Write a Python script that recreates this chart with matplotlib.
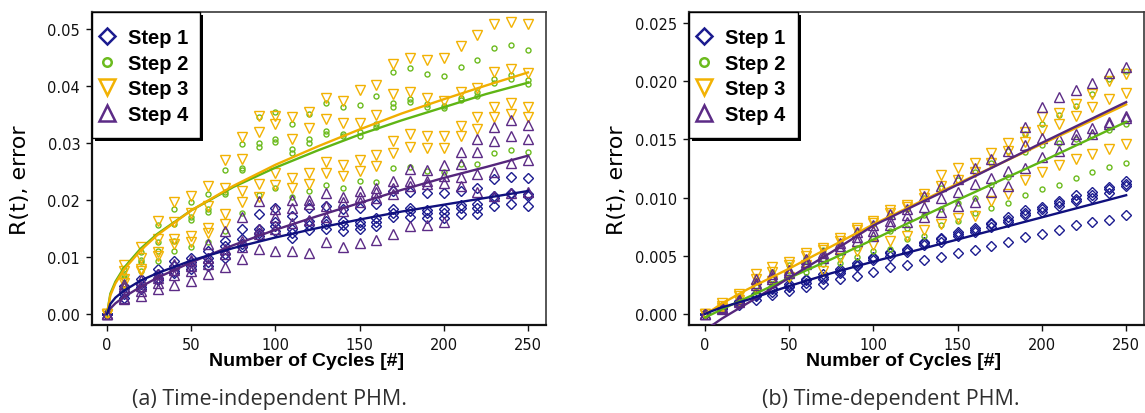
import numpy as np
import matplotlib
matplotlib.use("Agg")
import matplotlib.pyplot as plt
from matplotlib.lines import Line2D
from matplotlib.patches import Rectangle
from matplotlib.font_manager import FontProperties

# ---------------------------------------------------------------- data
cycles = list(range(0, 260, 10))
step_names = ["Step 1", "Step 2", "Step 3", "Step 4"]
step_colors = ["#1b1b8f", "#6cbb1e", "#f2b203", "#5c2b86"]
line_colors = ["#10107e", "#5fb514", "#f0ae00", "#55267c"]
step_markers = ["D", "o", "v", "^"]

# (a) time-independent PHM: four replicate runs per step
left_step1 = [
    [0, .0050, .0061, .0079, .0094, .0099, .0111, .0129, .0149, .0175, .0187, .0172, .0186,
     .0190, .0185, .0187, .0193, .0216, .0215, .0212, .0212, .0216, .0221, .0237, .0241, .0238],
    [0, .0041, .0053, .0070, .0084, .0092, .0099, .0120, .0131, .0149, .0161, .0150, .0163,
     .0164, .0163, .0162, .0168, .0184, .0187, .0183, .0184, .0192, .0193, .0207, .0213, .0210],
    [0, .0035, .0047, .0064, .0076, .0085, .0091, .0105, .0123, .0143, .0154, .0143, .0157,
     .0158, .0157, .0156, .0162, .0178, .0181, .0178, .0178, .0186, .0187, .0204, .0210, .0207],
    [0, .0029, .0044, .0060, .0073, .0079, .0084, .0099, .0117, .0137, .0146, .0134, .0147,
     .0150, .0146, .0149, .0155, .0170, .0170, .0169, .0168, .0175, .0175, .0190, .0193, .0190],
]
left_step2 = [
    [0, .0080, .0109, .0156, .0185, .0196, .0210, .0253, .0298, .0345, .0355, .0333, .0351,
     .0371, .0364, .0367, .0382, .0424, .0431, .0421, .0418, .0434, .0445, .0467, .0472, .0464],
    [0, .0068, .0095, .0127, .0158, .0170, .0185, .0215, .0257, .0300, .0308, .0289, .0308,
     .0322, .0316, .0319, .0334, .0371, .0377, .0368, .0366, .0380, .0389, .0412, .0419, .0411],
    [0, .0064, .0092, .0111, .0129, .0165, .0180, .0210, .0253, .0294, .0302, .0283, .0301,
     .0316, .0313, .0313, .0328, .0363, .0373, .0363, .0361, .0376, .0383, .0406, .0412, .0403],
    [0, .0052, .0076, .0093, .0111, .0117, .0126, .0145, .0178, .0209, .0221, .0205, .0216,
     .0226, .0222, .0234, .0232, .0256, .0258, .0251, .0250, .0263, .0264, .0283, .0288, .0284],
]
left_step3 = [
    [0, .0086, .0117, .0164, .0196, .0208, .0225, .0270, .0311, .0348, .0348, .0345, .0354,
     .0380, .0374, .0394, .0402, .0438, .0450, .0446, .0449, .0471, .0489, .0509, .0513, .0509],
    [0, .0075, .0098, .0132, .0161, .0178, .0190, .0222, .0272, .0319, .0333, .0307, .0327,
     .0342, .0335, .0335, .0350, .0387, .0390, .0379, .0374, .0390, .0396, .0424, .0430, .0423],
    [0, .0062, .0080, .0109, .0132, .0137, .0152, .0175, .0216, .0228, .0248, .0238, .0247,
     .0267, .0262, .0271, .0280, .0304, .0316, .0313, .0313, .0330, .0345, .0364, .0371, .0364],
    [0, .0055, .0075, .0102, .0123, .0126, .0143, .0158, .0196, .0205, .0226, .0221, .0228,
     .0248, .0243, .0251, .0260, .0282, .0294, .0292, .0292, .0312, .0325, .0345, .0351, .0345],
]
left_step4 = [
    [0, .0053, .0060, .0070, .0088, .0095, .0123, .0146, .0170, .0199, .0185, .0200, .0200,
     .0213, .0205, .0216, .0222, .0234, .0254, .0253, .0262, .0284, .0307, .0329, .0341, .0332],
    [0, .0047, .0050, .0063, .0078, .0085, .0098, .0115, .0128, .0150, .0170, .0187, .0193,
     .0190, .0197, .0205, .0215, .0222, .0234, .0234, .0243, .0263, .0284, .0303, .0313, .0307],
    [0, .0029, .0040, .0055, .0068, .0075, .0088, .0105, .0118, .0140, .0150, .0160, .0165,
     .0170, .0181, .0197, .0203, .0210, .0225, .0228, .0230, .0240, .0245, .0250, .0265, .0270],
    [0, .0026, .0032, .0044, .0051, .0058, .0070, .0083, .0096, .0114, .0111, .0111, .0108,
     .0126, .0117, .0124, .0130, .0140, .0154, .0156, .0161, .0225, .0215, .0207, .0213, .0215],
]
left_fit_x = [0, 2, 5, 10, 20, 30, 50, 75, 100, 125, 150, 175, 200, 225, 250]
left_fit = [
    [0, .0018, .0029, .0041, .0059, .0072, .0094, .0116, .01345, .0151, .0166, .0180, .0192, .0204, .0216],
    [0, .0036, .0057, .0081, .0115, .0141, .0182, .0223, .0257, .0287, .0315, .0340, .0363, .0386, .0406],
    [0, .0033, .0054, .0078, .0112, .0139, .0182, .0225, .0262, .0294, .0324, .0352, .0377, .0401, .0424],
    [0, .0010, .0019, .0030, .0048, .0064, .0091, .0121, .0148, .0172, .0195, .0218, .0239, .0258, .0278],
]

# (b) time-dependent PHM
right_step1 = [
    [0, .0006, .0011, .0017, .0022, .0026, .0030, .0034, .0039, .0044, .0049, .0053, .0056,
     .0062, .0065, .0070, .0074, .0078, .0083, .0089, .0092, .0097, .0102, .0105, .0109, .0114],
    [0, .0005, .0010, .0016, .0021, .0024, .0029, .0032, .0037, .0042, .0048, .0052, .0055,
     .0061, .0064, .0069, .0072, .0077, .0081, .0087, .0090, .0095, .0099, .0102, .0107, .0112],
    [0, .0005, .0009, .0015, .0019, .0023, .0027, .0030, .0035, .0041, .0046, .0050, .0053,
     .0059, .0062, .0067, .0070, .0075, .0079, .0085, .0088, .0093, .0097, .0100, .0104, .0110],
    [0, .0004, .0008, .0012, .0016, .0020, .0023, .0026, .0030, .0033, .0036, .0040, .0042,
     .0046, .0049, .0052, .0055, .0058, .0062, .0066, .0069, .0072, .0076, .0079, .0081, .0085],
]
right_step2 = [
    [0, .0007, .0015, .0028, .0036, .0042, .0048, .0055, .0062, .0070, .0077, .0084, .0090,
     .0100, .0108, .0115, .0122, .0130, .0140, .0155, .0163, .0171, .0179, .0189, .0202, .0209],
    [0, .0005, .0012, .0024, .0030, .0037, .0042, .0047, .0050, .0057, .0065, .0071, .0074,
     .0085, .0090, .0095, .0100, .0111, .0118, .0139, .0145, .0147, .0150, .0154, .0158, .0163],
    [0, .0004, .0010, .0020, .0025, .0031, .0036, .0043, .0044, .0049, .0054, .0056, .0064,
     .0067, .0076, .0080, .0087, .0091, .0095, .0102, .0107, .0111, .0117, .0122, .0126, .0130],
]
right_step3 = [
    [0, .0009, .0017, .0034, .0040, .0045, .0052, .0057, .0065, .0074, .0080, .0089, .0094,
     .0103, .0119, .0125, .0130, .0138, .0147, .0156, .0169, .0173, .0180, .0189, .0200, .0206],
    [0, .0007, .0015, .0030, .0036, .0042, .0050, .0055, .0063, .0072, .0078, .0087, .0092,
     .0100, .0110, .0115, .0122, .0130, .0140, .0148, .0158, .0163, .0170, .0178, .0185, .0190],
    [0, .0005, .0012, .0022, .0028, .0032, .0042, .0037, .0048, .0054, .0059, .0063, .0067,
     .0072, .0077, .0082, .0084, .0097, .0103, .0115, .0122, .0128, .0133, .0137, .0142, .0146],
]
right_step4 = [
    [0, .0006, .0013, .0030, .0034, .0038, .0047, .0052, .0061, .0070, .0076, .0086, .0090,
     .0101, .0110, .0116, .0125, .0133, .0140, .0161, .0178, .0186, .0192, .0198, .0207, .0212],
    [0, .0005, .0011, .0027, .0032, .0036, .0045, .0050, .0058, .0066, .0071, .0080, .0085,
     .0092, .0100, .0105, .0112, .0117, .0123, .0145, .0151, .0150, .0155, .0160, .0165, .0170],
    [0, .0004, .0010, .0025, .0030, .0035, .0043, .0048, .0056, .0063, .0067, .0076, .0079,
     .0083, .0088, .0093, .0096, .0105, .0110, .0125, .0135, .0140, .0150, .0155, .0163, .0168],
]
right_fit_x = [0, 5, 10, 25, 50, 75, 100, 150, 200, 250]
right_fit = [
    [0, .0003, .00056, .0012, .0024, .0035, .0045, .0064, .0083, .0102],
    [-.0003, .00004, .0004, .0014, .0031, .0047, .0064, .0098, .0131, .0165],
    [0, .0004, .0009, .0021, .0039, .0058, .0077, .0112, .0146, .0180],
    [-.0013, -.0009, -.0004, .0009, .0031, .0053, .0076, .0111, .0147, .0182],
]

left_xticks = [0, 50, 100, 150, 200, 250]
left_yticks = [0.00, 0.01, 0.02, 0.03, 0.04, 0.05]
right_yticks = [0.000, 0.005, 0.010, 0.015, 0.020, 0.025]

# ---------------------------------------------------------------- style
marker_sizes = {"D": 4.6, "o": 3.6, "v": 6.6, "^": 6.6}
tick_font = {"family": "DejaVu Sans", "size": 10.5}
xlabel_font = FontProperties(family="Liberation Sans", weight="bold", size=14)
legend_font = FontProperties(family="Liberation Sans", weight="bold", size=14.5)

fig = plt.figure(figsize=(11.45, 4.14), dpi=100)
W, H = 1145, 414


def panel(rect, steps, fit_x, fits, yticks, yfmt, xlim, ylim, box_w):
    ax = fig.add_axes(rect)
    ax_w_px = rect[2] * W
    ax_h_px = rect[3] * H
    for k, reps in enumerate(steps):
        m = step_markers[k]
        for rep in reps:
            ax.plot(cycles, rep, ls="none", marker=m, ms=marker_sizes[m],
                    mfc="none", mec=step_colors[k], mew=1.0, zorder=2)
    for k in [1, 2, 3, 0]:
        ax.plot(fit_x, fits[k], color=line_colors[k], lw=1.7, zorder=3)
    ax.set_xlim(*xlim)
    ax.set_ylim(*ylim)
    ax.set_xticks(left_xticks)
    ax.set_yticks(yticks)
    ax.set_yticklabels([yfmt.format(v) for v in yticks], fontdict=tick_font)
    ax.set_xticklabels([str(v) for v in left_xticks], fontdict=tick_font)
    ax.tick_params(direction="out", length=4.5, width=1.0, pad=4, colors="#111111")
    for side in ["left", "bottom"]:
        ax.spines[side].set_linewidth(1.6)
        ax.spines[side].set_color("#111111")
    for side in ["top", "right"]:
        ax.spines[side].set_linewidth(1.2)
        ax.spines[side].set_color("#3a3a3a")
    ax.set_xlabel("Number of Cycles [#]", fontproperties=xlabel_font)
    ax.xaxis.set_label_coords(0.472, -0.085)
    ax.set_ylabel("R(t), error", family="DejaVu Sans", fontsize=16)
    ax.yaxis.set_label_coords(-0.137, 0.466)

    # legend box with a solid drop shadow
    bw = box_w / ax_w_px
    bh = 126 / ax_h_px
    dx, dy = 2.5 / ax_w_px, 2.5 / ax_h_px
    ax.add_patch(Rectangle((dx, 1 - bh - dy), bw, bh, transform=ax.transAxes,
                           facecolor="black", edgecolor="none", zorder=6, clip_on=False))
    ax.add_patch(Rectangle((0, 1 - bh), bw, bh, transform=ax.transAxes,
                           facecolor="white", edgecolor="black", lw=1.0, zorder=6.5,
                           clip_on=False))

    handles = [Line2D([], [], ls="none", marker=step_markers[k],
                      ms=marker_sizes[step_markers[k]] * 1.7, mfc="none",
                      mec=step_colors[k], mew=1.8) for k in range(4)]
    leg = ax.legend(handles, step_names, loc="upper left",
                    bbox_to_anchor=(5 / ax_w_px, 1 - 16 / ax_h_px),
                    borderaxespad=0, prop=legend_font, frameon=False,
                    handlelength=1.0, handletextpad=0.55, labelspacing=0.33, borderpad=0)
    leg.set_zorder(7)
    return ax


panel([92 / W, (H - 326) / H, 454 / W, 313 / H],
      [left_step1, left_step2, left_step3, left_step4],
      left_fit_x, left_fit, left_yticks, "{:.2f}", (-8.9, 260.7), (-0.0019, 0.0530), 108)
panel([689 / W, (H - 326) / H, 455 / W, 313 / H],
      [right_step1, right_step2, right_step3, right_step4],
      right_fit_x, right_fit, right_yticks, "{:.3f}", (-9.5, 260.6), (-0.00095, 0.02594), 109)

cap_font = {"family": "Open Sans", "size": 15.5, "color": "#2f2f2f"}
fig.text(270 / W, 1 - 400 / H, "(a) Time-independent PHM.", ha="center", va="center", **cap_font)
fig.text(891 / W, 1 - 400 / H, "(b) Time-dependent PHM.", ha="center", va="center", **cap_font)

fig.savefig("out.png", dpi=100, facecolor="white")
